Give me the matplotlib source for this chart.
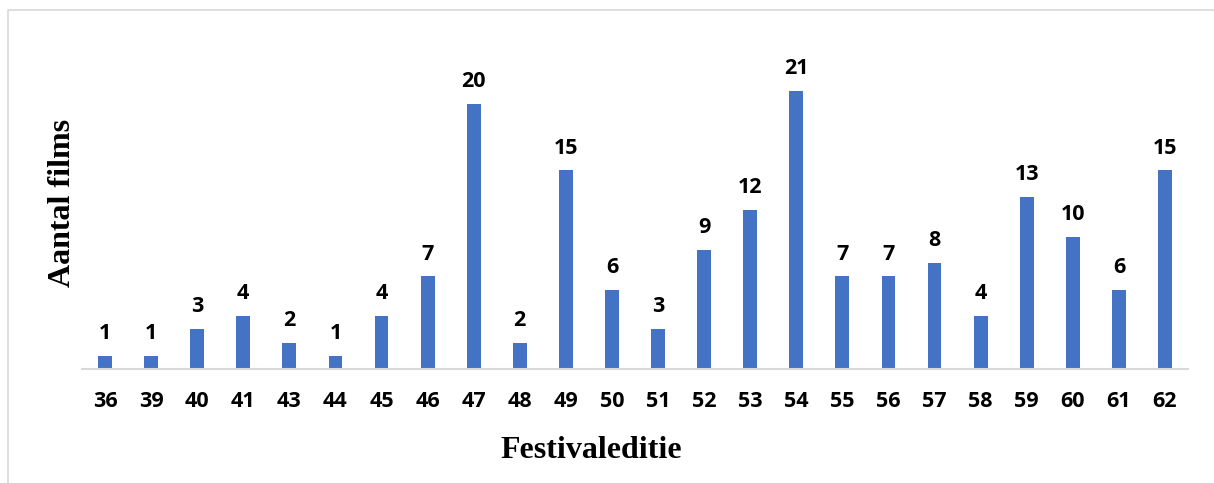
import matplotlib
matplotlib.use("Agg")
import matplotlib.pyplot as plt
from matplotlib.lines import Line2D

# Festivaledities en aantal films
edities = ["36", "39", "40", "41", "43", "44", "45", "46", "47", "48", "49", "50",
           "51", "52", "53", "54", "55", "56", "57", "58", "59", "60", "61", "62"]
aantal = [1, 1, 3, 4, 2, 1, 4, 7, 20, 2, 15, 6,
          3, 9, 12, 21, 7, 7, 8, 4, 13, 10, 6, 15]

W, H = 1214, 483
fig = plt.figure(figsize=(W / 100, H / 100), dpi=100)
ax = fig.add_axes([82 / W, 1 - 369 / H, (1188 - 82) / W, (369 - 38) / H])

x = range(len(edities))
bars = ax.bar(x, aantal, width=0.3, color="#4472C4")
ax.set_xlim(-0.5, len(edities) - 0.5)
ax.set_ylim(0, 25)

for b, v in zip(bars, aantal):
    ax.annotate(str(v), (b.get_x() + b.get_width() / 2, v),
                xytext=(0, 8.5), textcoords="offset points",
                ha="center", va="bottom", fontsize=15.5, fontweight="bold",
                family="Open Sans")

ax.set_xticks(list(x))
ax.set_xticklabels(edities, fontsize=15.5, fontweight="bold", family="Open Sans")
ax.tick_params(axis="x", length=0, pad=16)
ax.set_yticks([])
for s in ["left", "right", "top"]:
    ax.spines[s].set_visible(False)
ax.spines["bottom"].set_color("#d9d9d9")
ax.spines["bottom"].set_linewidth(1.5)

fig.text(62 / W, 1 - 203 / H, "Aantal films", rotation=90, ha="center", va="center",
         fontsize=23, fontweight="bold", family="Liberation Serif")
fig.text(591 / W, 1 - 450 / H, "Festivaleditie", ha="center", va="center",
         fontsize=23, fontweight="bold", family="Liberation Serif")

# rand van de grafiek (links en boven)
fig.add_artist(Line2D([8 / W, 8 / W, 1.0], [0.0, 1 - 10 / H, 1 - 10 / H],
                      color="#d9d9d9", linewidth=1.2))

fig.savefig("out.png", dpi=100)
